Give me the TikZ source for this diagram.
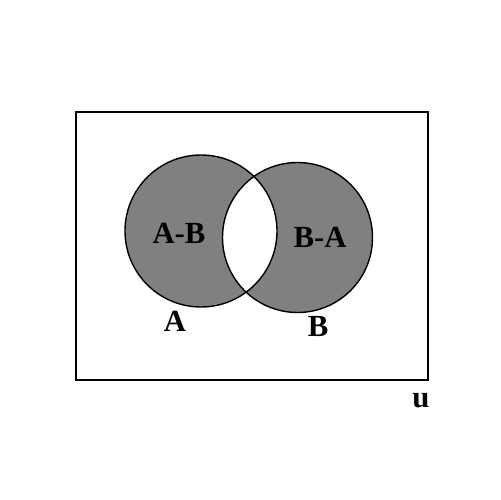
\documentclass[tikz,border=0pt]{standalone}
\usepackage{fontspec}
\setmainfont{Liberation Serif}
\usepackage{tikz}
\definecolor{venngray}{RGB}{128,128,128}

\begin{document}
\begin{tikzpicture}[x=0.02cm, y=-0.02cm,
  setlabel/.style={font=\fontsize{17.5}{20}\selectfont\bfseries, inner sep=0pt},
  rim/.style={draw=black, line width=0.8pt}]
\useasboundingbox (0,0) rectangle (500,500);
% universe
\draw[line width=1pt] (76,112) rectangle (428,380);
% the two sets, shaded apart from their common part
\fill[venngray, even odd rule] (201,231) circle (76) (297.5,237.5) circle (75);
\draw[rim] (201,231) circle (76);
\draw[rim] (297.5,237.5) circle (75);
\node[setlabel] (amb) at (179,233) {A-B};
\node[setlabel] (bma) at (320,237) {B-A};
\node[setlabel] (la) at (175,321) {A};
\node[setlabel] (lb) at (318,326) {B};
\node[setlabel] (lu) at (421,401) {u};
\end{tikzpicture}
\end{document}
